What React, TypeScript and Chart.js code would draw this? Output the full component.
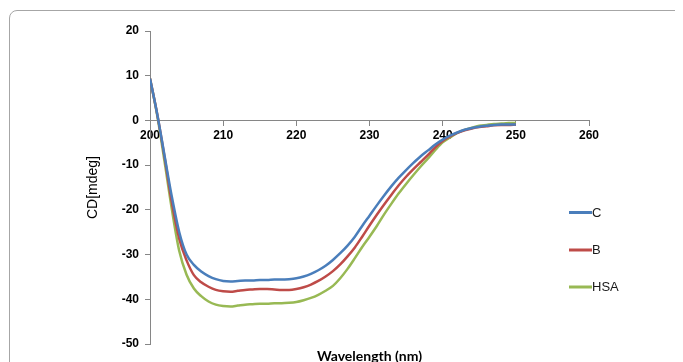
import { useEffect, useRef } from 'react';
import { Chart, registerables } from 'chart.js';

Chart.register(...registerables);

const wavelengths = [
  200, 201, 202, 203, 204, 205, 206, 207, 208, 209,
  210, 211, 212, 213, 214, 215, 216, 217, 218, 219,
  220, 221, 222, 223, 224, 225, 226, 227, 228, 229,
  230, 231, 232, 233, 234, 235, 236, 237, 238, 239,
  240, 241, 242, 243, 244, 245, 246, 247, 248, 249, 250,
];

const seriesC = [
  9.4, 1.3, -8.0, -17.2, -25.0, -30.0, -32.3, -33.8, -34.8, -35.5,
  -35.9, -36.0, -35.9, -35.8, -35.8, -35.7, -35.7, -35.6, -35.6, -35.5,
  -35.3, -34.9, -34.3, -33.5, -32.5, -31.2, -29.7, -28.0, -26.0, -23.6,
  -21.3, -19.0, -16.8, -14.7, -12.8, -11.1, -9.5, -8.0, -6.7, -5.4,
  -4.3, -3.4, -2.7, -2.1, -1.7, -1.4, -1.2, -1.0, -0.9, -0.9, -0.9,
];

const seriesB = [
  9.4, 1.3, -8.3, -18.5, -26.5, -31.3, -34.6, -36.2, -37.2, -37.9,
  -38.2, -38.3, -38.1, -37.9, -37.8, -37.7, -37.7, -37.8, -37.9, -37.9,
  -37.7, -37.3, -36.7, -35.9, -34.9, -33.7, -32.2, -30.4, -28.4, -26.0,
  -23.5, -21.1, -18.8, -16.6, -14.5, -12.6, -10.9, -9.3, -7.7, -6.0,
  -4.6, -3.6, -2.8, -2.2, -1.8, -1.5, -1.3, -1.1, -1.0, -1.0, -0.9,
];

const seriesHSA = [
  9.4, 1.0, -9.3, -20.0, -29.2, -34.5, -37.6, -39.3, -40.5, -41.2,
  -41.5, -41.6, -41.4, -41.2, -41.1, -41.0, -41.0, -40.9, -40.9, -40.8,
  -40.6, -40.2, -39.7, -39.0, -38.1, -37.0, -35.3, -33.2, -30.8, -28.3,
  -26.0, -23.6, -21.0, -18.6, -16.3, -14.2, -12.2, -10.3, -8.5, -6.6,
  -4.9, -3.8, -2.8, -2.1, -1.6, -1.2, -1.0, -0.8, -0.7, -0.6, -0.6,
];

const seriesNames = ['C', 'B', 'HSA'];
const seriesColors = ['#4A7EBB', '#BE4B48', '#98B954'];
const xTicks = [200, 210, 220, 230, 240, 250, 260];
const yTicks = [20, 10, 0, -10, -20, -30, -40, -50];
const xTitle = 'Wavelength (nm)';
const yTitle = 'CD[mdeg]';

const AXIS_COLOR = '#868686';

const textPlugin = {
  id: 'textPlugin',
  afterDraw(chart: any) {
    const ctx = chart.ctx;
    const area = chart.chartArea;
    ctx.save();
    // Y axis title
    ctx.fillStyle = '#000';
    ctx.font = '14px "Liberation Sans", Arial, sans-serif';
    ctx.textAlign = 'center';
    ctx.textBaseline = 'middle';
    ctx.translate(85, (area.top + area.bottom) / 2);
    ctx.rotate(-Math.PI / 2);
    ctx.fillText(yTitle, 0, 0);
    ctx.restore();

    // X axis title
    ctx.save();
    ctx.fillStyle = '#000';
    ctx.font = 'bold 14px Lato, "Liberation Sans", sans-serif';
    ctx.textAlign = 'center';
    ctx.textBaseline = 'alphabetic';
    ctx.fillText(xTitle, (area.left + area.right) / 2, 353);
    ctx.restore();

    // Legend
    ctx.save();
    const legendY = [204.5, 242, 279];
    seriesNames.forEach((name, i) => {
      ctx.strokeStyle = seriesColors[i];
      ctx.lineWidth = 3;
      ctx.beginPath();
      ctx.moveTo(561, legendY[i]);
      ctx.lineTo(584, legendY[i]);
      ctx.stroke();
      ctx.fillStyle = '#1a1a1a';
      ctx.font = '13px "Liberation Sans", Arial, sans-serif';
      ctx.textAlign = 'left';
      ctx.textBaseline = 'middle';
      ctx.fillText(name, 584, legendY[i] + 0.5);
    });
    ctx.restore();
  },
};

export default function App() {
  const canvasRef = useRef<HTMLCanvasElement | null>(null);

  useEffect(() => {
    const canvas = canvasRef.current;
    if (!canvas) return;
    const seriesValues = [seriesC, seriesB, seriesHSA];
    const chart = new Chart(canvas, {
      type: 'line',
      data: {
        datasets: seriesNames.map((name, i) => ({
          label: name,
          data: wavelengths.map((w, j) => ({ x: w, y: seriesValues[i][j] })),
          borderColor: seriesColors[i],
          backgroundColor: seriesColors[i],
          borderWidth: 2.5,
          pointRadius: 0,
          cubicInterpolationMode: 'monotone' as const,
          fill: false,
        })),
      },
      options: {
        responsive: false,
        animation: false,
        devicePixelRatio: 1,
        layout: { padding: { left: 0, right: 94, top: 23, bottom: 18 } },
        plugins: {
          legend: { display: false },
          tooltip: { enabled: false },
          title: { display: false },
        },
        scales: {
          x: {
            type: 'linear',
            position: { y: 0 } as any,
            min: 200,
            max: 260,
            afterBuildTicks(scale: any) {
              scale.ticks = xTicks.map((v) => ({ value: v }));
            },
            ticks: {
              color: '#000',
              font: { family: '"Liberation Sans", Arial, sans-serif', weight: 'bold', size: 12 },
              padding: 3,
              maxRotation: 0,
            },
            grid: { drawOnChartArea: false, drawTicks: true, tickLength: 5, color: AXIS_COLOR },
            border: { color: AXIS_COLOR, width: 1 },
          },
          y: {
            type: 'linear',
            min: -50,
            max: 20,
            afterBuildTicks(scale: any) {
              scale.ticks = yTicks.map((v) => ({ value: v }));
            },
            afterFit(scale: any) {
              scale.width = 142;
            },
            ticks: {
              color: '#000',
              font: { family: '"Liberation Sans", Arial, sans-serif', weight: 'bold', size: 12 },
              padding: 6,
            },
            grid: { drawOnChartArea: false, drawTicks: true, tickLength: 5, color: AXIS_COLOR },
            border: { color: AXIS_COLOR, width: 1 },
          },
        },
      },
      plugins: [textPlugin],
    });
    return () => chart.destroy();
  }, []);

  return (
    <div style={{ position: 'relative', width: 675, height: 354, overflow: 'hidden' }}>
      <div
        style={{
          position: 'absolute',
          left: 1,
          top: 2,
          width: 720,
          height: 420,
          border: '1px solid #a6a6a6',
          borderRadius: 8,
          boxSizing: 'border-box',
        }}
      />
      <canvas ref={canvasRef} width={675} height={354} style={{ position: 'absolute', left: 0, top: 0 }} />
    </div>
  );
}
